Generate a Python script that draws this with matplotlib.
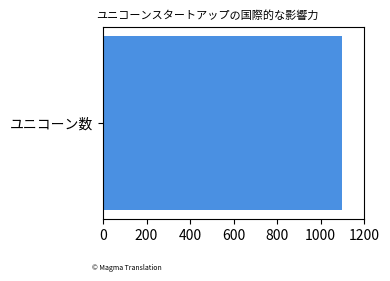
import matplotlib
matplotlib.use('Agg')
import matplotlib.pyplot as plt

plt.rcParams['font.family'] = ['Noto Sans CJK JP', 'DejaVu Sans']

categories = ['ユニコーン数']
values = [1100]

fig = plt.figure(figsize=(3.9, 2.81), dpi=100)
ax = fig.add_axes([103/390, 1 - 219/281, 261/390, 192/281])
ax.barh(categories, values, color='#4a90e2')
ax.set_xlim(0, 1200)
ax.set_xticks([0, 200, 400, 600, 800, 1000, 1200])
ax.tick_params(labelsize=10)
# title sits a bit left of the axes centre in the original
fig.text(207/390, 1 - 16/281, 'ユニコーンスタートアップの国際的な影響力', fontsize=8, ha='center', va='center')
fig.text(92/390, 1 - 268/281, '© Magma Translation', fontsize=5, va='center')

fig.savefig('out.png', dpi=100)
